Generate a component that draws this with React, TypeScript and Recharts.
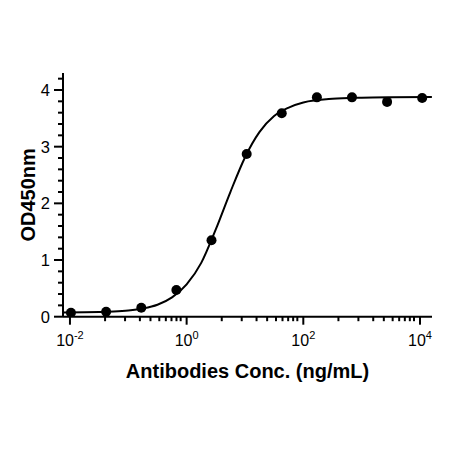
import React from "react";
import { ComposedChart, Line, Scatter, XAxis, YAxis } from "recharts";

// measured concentrations (ng/mL) and OD450 readings
const concentrations = [0.0104, 0.0417, 0.167, 0.667, 2.67, 10.7, 42.7, 171, 683, 2730, 10900];
const odValues = [0.07, 0.088, 0.159, 0.47, 1.35, 2.87, 3.59, 3.87, 3.87, 3.79, 3.86];

// fitted curve
const curveConc = [0.0076, 0.0178, 0.0316, 0.0562, 0.1, 0.178, 0.316, 0.562, 1, 1.78, 3.16, 5.62, 10, 17.8, 31.6, 56.2, 100, 316, 1000, 3162, 16000];
const curveOd = [0.075, 0.078, 0.083, 0.092, 0.11, 0.145, 0.21, 0.34, 0.57, 0.95, 1.54, 2.2, 2.81, 3.26, 3.54, 3.69, 3.78, 3.845, 3.865, 3.872, 3.875];

// axis ticks
const xMajorTicks = [0.01, 1, 100, 10000];
const xMinorTicks = [
  0.04, 0.088, 0.158, 0.24, 0.34, 0.44, 0.55, 0.67, 0.79,
  4, 8.8, 15.8, 24, 34, 44, 55, 67, 79,
  400, 880, 1580, 2400, 3400, 4400, 5500, 6700, 7900,
];
const yMajorTicks = [0, 1, 2, 3, 4];
const yMinorTicks = [0.2, 0.4, 0.6, 0.8, 1.2, 1.4, 1.6, 1.8, 2.2, 2.4, 2.6, 2.8, 3.2, 3.4, 3.6, 3.8, 4.2];
const xExponents = ["-2", "0", "2", "4"];

const xDomain = [0.0076, 16070];
const yDomain = [0, 4.3];

const pointData = concentrations.map((c, i) => ({ x: c, y: odValues[i] }));
const curveData = curveConc.map((c, i) => ({ x: c, y: curveOd[i] }));

const FONT = "'Liberation Sans', Arial, Helvetica, sans-serif";

const XTick = (props: any) => {
  const { x, y, payload } = props;
  const v = payload.value;
  const idx = xMajorTicks.indexOf(v);
  const major = idx >= 0;
  return (
    <g>
      <line x1={x} x2={x} y1={y} y2={y + (major ? 8 : 4.5)} stroke="#000" strokeWidth={2} />
      {major && (
        <text x={x} y={y + 29} textAnchor="middle" fontSize={16} fontFamily={FONT} fill="#000">
          <tspan>10</tspan>
          <tspan dy={-7} fontSize={11}>{xExponents[idx]}</tspan>
        </text>
      )}
    </g>
  );
};

const YTick = (props: any) => {
  const { x, y, payload } = props;
  const v = payload.value;
  const major = yMajorTicks.includes(v);
  return (
    <g>
      <line x1={x} x2={x - (major ? 9 : 5)} y1={y} y2={y} stroke="#000" strokeWidth={2} />
      {major && (
        <text x={x - 13} y={y + 6} textAnchor="end" fontSize={16.5} fontFamily={FONT} fill="#000">
          {v}
        </text>
      )}
    </g>
  );
};

const XLabel = (props: any) => {
  const vb = props.viewBox;
  return (
    <text x={vb.x + vb.width / 2} y={vb.y + 61} textAnchor="middle" fontSize={20} fontWeight="bold" fontFamily={FONT} fill="#000">
      Antibodies Conc. (ng/mL)
    </text>
  );
};

const YLabel = (props: any) => {
  const vb = props.viewBox;
  const cx = vb.x + 35;
  const cy = vb.y + vb.height / 2;
  return (
    <text x={cx} y={cy} transform={`rotate(-90 ${cx} ${cy})`} textAnchor="middle" fontSize={20} fontWeight="bold" fontFamily={FONT} fill="#000">
      OD450nm
    </text>
  );
};

export default function App() {
  const xTicks = [...xMajorTicks, ...xMinorTicks].sort((a, b) => a - b);
  const yTicks = [...yMajorTicks, ...yMinorTicks].sort((a, b) => a - b);
  return (
    <div style={{ position: "absolute", left: 0, top: 0, width: 450, height: 451, background: "#fff" }}>
      <ComposedChart width={450} height={451} margin={{ top: 73, right: 18, left: 0, bottom: 104.3 }}>
        <XAxis
          dataKey="x"
          type="number"
          scale="log"
          domain={xDomain}
          allowDataOverflow
          ticks={xTicks}
          interval={0}
          tick={<XTick />}
          tickLine={false}
          tickSize={0}
          tickMargin={0}
          height={30}
          axisLine={{ stroke: "#000", strokeWidth: 2 }}
          label={<XLabel />}
        />
        <YAxis
          dataKey="y"
          type="number"
          domain={yDomain}
          allowDataOverflow
          ticks={yTicks}
          interval={0}
          tick={<YTick />}
          tickLine={false}
          tickSize={0}
          tickMargin={0}
          width={63}
          axisLine={{ stroke: "#000", strokeWidth: 2 }}
          label={<YLabel />}
        />
        <Line
          data={curveData}
          dataKey="y"
          type="monotone"
          stroke="#000"
          strokeWidth={2}
          dot={false}
          activeDot={false}
          isAnimationActive={false}
        />
        <Scatter
          data={pointData}
          dataKey="y"
          fill="#000"
          isAnimationActive={false}
          shape={(p: any) => <circle cx={p.cx} cy={p.cy} r={5} fill="#000" />}
        />
      </ComposedChart>
    </div>
  );
}
